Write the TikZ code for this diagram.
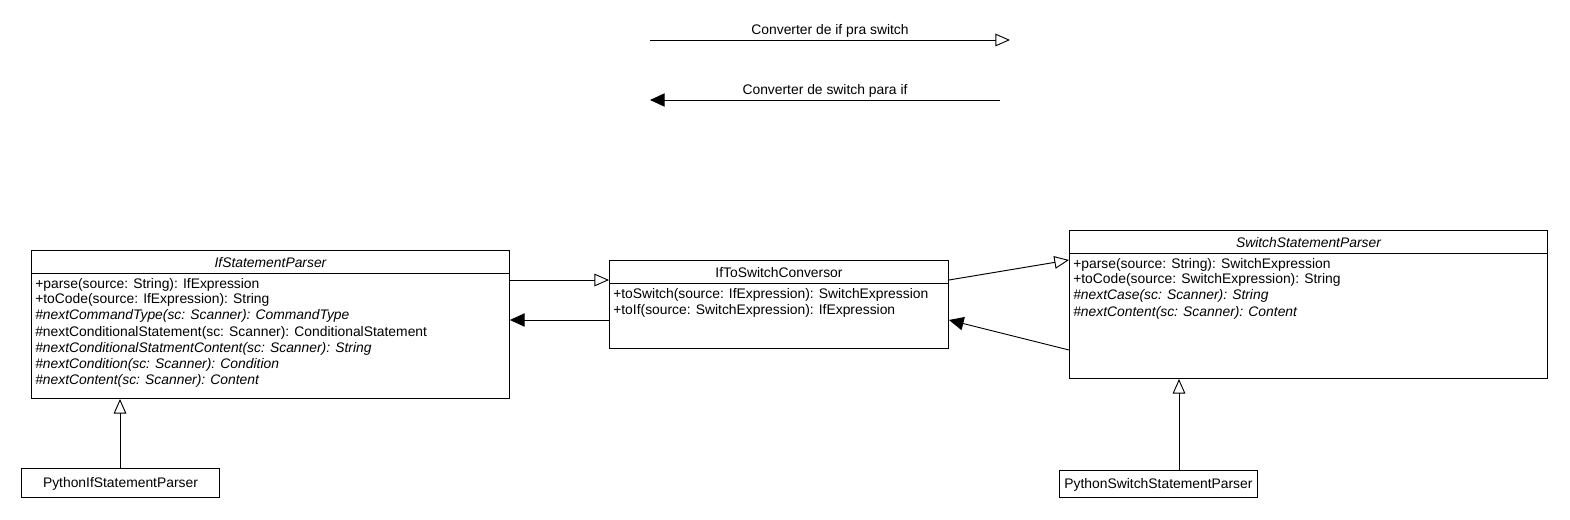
\documentclass[tikz,border=0pt]{standalone}
\usepackage{fontspec}
\setmainfont{Liberation Sans}
\usetikzlibrary{arrows.meta,calc}
\tikzset{
  umlbox/.style={draw, line width=0.7pt, anchor=north west, inner sep=0pt, fill=white},
  txt/.style={inner sep=0pt, anchor=base west, font=\fontsize{10.4}{12}\selectfont},
  ttl/.style={inner sep=0pt, anchor=base, font=\fontsize{10.4}{12}\selectfont},
  conn/.style={line width=0.7pt},
  gen/.style={conn, -{Triangle[open, length=11pt, width=9.5pt]}},
  nav/.style={conn, -{Triangle[length=11pt, width=10pt]}}
}
\begin{document}
\begin{tikzpicture}[x=0.75pt,y=-0.75pt]
\useasboundingbox (0,0) rectangle (1570,520);

% boxes
\node[umlbox, minimum width=358.5pt, minimum height=111pt] (ifsp) at (31,250) {};
\node[umlbox, minimum width=254.25pt, minimum height=66pt] (conv) at (609,260) {};
\node[umlbox, minimum width=358.5pt, minimum height=111pt] (swsp) at (1069,230) {};
\node[umlbox, minimum width=148.5pt, minimum height=21.75pt] (pyif) at (21,468) {};
\node[umlbox, minimum width=148.5pt, minimum height=20.25pt] (pysw) at (1059,470) {};

% header separators
\draw[conn] ($(ifsp.north west)+(0,23)$) -- ($(ifsp.north east)+(0,23)$);
\draw[conn] ($(conv.north west)+(0,23)$) -- ($(conv.north east)+(0,23)$);
\draw[conn] ($(swsp.north west)+(0,23)$) -- ($(swsp.north east)+(0,23)$);

% titles
\node[ttl] (ifspT) at ($(ifsp.north)+(0,17.5)$) {\itshape IfStatementParser};
\node[ttl] (convT) at ($(conv.north)+(0,17.5)$) {IfToSwitchConversor};
\node[ttl] (swspT) at ($(swsp.north)+(0,17.5)$) {\itshape SwitchStatementParser};
\node[ttl] (pyifT) at ($(pyif.center)+(0,5)$) {PythonIfStatementParser};
\node[ttl] (pyswT) at ($(pysw.center)+(0,5)$) {PythonSwitchStatementParser};

% IfStatementParser methods
\node[txt] (if1) at ($(ifsp.north west)+(4,38)$) {+parse(source: String): IfExpression};
\node[txt] (if2) at ($(ifsp.north west)+(4,54)$) {+toCode(source: IfExpression): String};
\node[txt] (if3) at ($(ifsp.north west)+(4,70)$) {\itshape \#nextCommandType(sc: Scanner): CommandType};
\node[txt] (if4) at ($(ifsp.north west)+(4,86)$) {\#nextConditionalStatement(sc: Scanner): ConditionalStatement};
\node[txt] (if5) at ($(ifsp.north west)+(4,102)$) {\itshape \#nextConditionalStatmentContent(sc: Scanner): String};
\node[txt] (if6) at ($(ifsp.north west)+(4,118)$) {\itshape \#nextCondition(sc: Scanner): Condition};
\node[txt] (if7) at ($(ifsp.north west)+(4,134)$) {\itshape \#nextContent(sc: Scanner): Content};

% Conversor methods
\node[txt] (cv1) at ($(conv.north west)+(4,38)$) {+toSwitch(source: IfExpression): SwitchExpression};
\node[txt] (cv2) at ($(conv.north west)+(4,54)$) {+toIf(source: SwitchExpression): IfExpression};

% SwitchStatementParser methods
\node[txt] (sw1) at ($(swsp.north west)+(4,38)$) {+parse(source: String): SwitchExpression};
\node[txt] (sw2) at ($(swsp.north west)+(4,54)$) {+toCode(source: SwitchExpression): String};
\node[txt] (sw3) at ($(swsp.north west)+(4,70)$) {\itshape \#nextCase(sc: Scanner): String};
\node[txt] (sw4) at ($(swsp.north west)+(4,86)$) {\itshape \#nextContent(sc: Scanner): Content};

% connectors between classes
\draw[gen] ($(ifsp.north east)+(0,30)$) -- ($(conv.north west)+(0,20)$);
\draw[nav] ($(conv.north west)+(0,60)$) -- ($(ifsp.north east)+(0,70)$);
\draw[gen] ($(conv.north east)+(0,20)$) -- ($(swsp.north west)+(0,30)$);
\draw[nav] ($(swsp.north west)+(0,120)$) -- ($(conv.north east)+(0,60)$);
\draw[gen] (pyif.north -| 120,0) -- (ifsp.south -| 120,0);
\draw[gen] (pysw.north -| 1179,0) -- (swsp.south -| 1179,0);

% legend
\coordinate (l1s) at (650,40);
\coordinate (l1e) at (1010,40);
\coordinate (l2s) at (1000,100);
\coordinate (l2e) at (650,100);
\draw[gen] (l1s) -- node[ttl, midway, anchor=base, yshift=4pt] (l1t) {Converter de if pra switch} (l1e);
\draw[nav] (l2s) -- node[ttl, midway, anchor=base, yshift=3.8pt] (l2t) {Converter de switch para if} (l2e);
\end{tikzpicture}
\end{document}
